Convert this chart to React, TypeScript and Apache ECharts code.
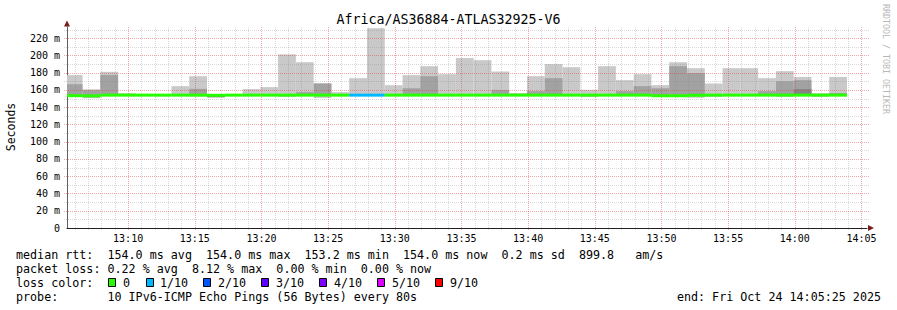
import React, { useEffect, useRef } from "react";
import * as echarts from "echarts";

// ---- time frame (seconds since midnight) ----
const T_START = 47125; // 13:05:25
const T_END = 50725; // 14:05:25
const STEP = 80; // probe step, seconds
const FIRST_BAR_START = 47115; // 13:05:15 (first, clipped, sample)

// ---- per-sample values (ms) ----
const smokeLo = [152.5, 150.5, 153.5, 153.5, 153, 152.8, 154, 152.5, 151.5, 153.5, 153, 153.5, 152, 153.5, 150.8, 153.5, 153.5, 153.5, 153.5, 153.5, 153.5, 153.5, 153.5, 153.5, 153.5, 153.5, 153.5, 153.5, 153.5, 151.8, 153.5, 153.5, 153.5, 153, 152.5, 151, 152, 153.5, 153.5, 153.5, 152, 153.5, 152, 153.5];
const smokeHi = [177.3, 160.8, 181, 156.3, 155.4, 155.3, 164.4, 176, 155, 155, 161, 163.3, 201.3, 192.2, 168, 157.5, 173.7, 231.6, 165.5, 177.2, 187.6, 178.3, 197, 194.5, 181.4, 156.5, 176, 190, 186.4, 160.2, 187.6, 171.4, 178.3, 165.6, 192.2, 185.3, 167.5, 185.3, 185.3, 173.7, 181.8, 175, 156.3, 175];
const innerLo = [153, 151.5, 153.5, null, null, null, null, 154, null, null, null, null, null, 153.5, 153.5, null, null, null, null, 153.5, 153.5, null, null, null, 153.5, null, 153.5, 153.5, null, null, null, 153.5, 153.5, 153, 153, 153, null, null, null, 153.5, 153.5, 153.5, null, 153.5];
const innerHi = [166.7, 159.8, 177.3, null, null, null, null, 161.3, null, null, null, null, null, 157.5, 167.3, null, null, null, null, 162, 176, null, null, null, 160.1, null, 158.6, 173.7, null, null, null, 158.6, 164.4, 162, 187.6, 179.6, null, null, null, 158.6, 170.2, 171.4, null, 156.5];
const coreLo = [null, null, null, null, null, null, null, null, 151.5, null, null, null, null, null, null, null, null, null, null, null, null, null, null, null, null, null, null, 153.5, null, null, null, null, null, null, null, null, null, null, null, null, 153.5, 153.5, null, null];
const coreHi = [null, null, null, null, null, null, null, null, 153.6, null, null, null, null, null, null, null, null, null, null, null, null, null, null, null, null, null, null, 155.4, null, null, null, null, null, null, null, null, null, null, null, null, 155.5, 161, null, null];
const median = [153.4, 153.2, 154, 154, 154, 154, 154, 154, 153.8, 154, 154, 154, 154, 154, 154, 154, 154, 154, 154, 154, 154, 154, 154, 154, 154, 154, 154, 154, 154, 154, 154, 154, 154, 153.3, 153.3, 153.8, 154, 154, 154, 154, 154, 154, 154, 154];
const lossIdx = [0, 0, 0, 0, 0, 0, 0, 0, 0, 0, 0, 0, 0, 0, 0, 0, 1, 1, 0, 0, 0, 0, 0, 0, 0, 0, 0, 0, 0, 0, 0, 0, 0, 0, 0, 0, 0, 0, 0, 0, 0, 0, 0, 0];

// ---- axis ticks ----
const xLabelValues = [47400, 47700, 48000, 48300, 48600, 48900, 49200, 49500, 49800, 50100, 50400, 50700];
const Y_MAX = 233;
const Y_INTERVAL = 20;

// ---- legend texts ----
const TITLE = "Africa/AS36884-ATLAS32925-V6";
const Y_NAME = "Seconds";
const LINE_RTT = "median rtt:  154.0 ms avg  154.0 ms max  153.2 ms min  154.0 ms now  0.2 ms sd  899.8   am/s";
const LINE_LOSS = "packet loss: 0.22 % avg  8.12 % max  0.00 % min  0.00 % now";
const LINE_PROBE = "probe:       10 IPv6-ICMP Echo Pings (56 Bytes) every 80s";
const LINE_END = "end: Fri Oct 24 14:05:25 2025";
const lossLabels = ["0", "1/10", "2/10", "3/10", "4/10", "5/10", "9/10"];
const lossColors = ["#26ff00", "#00b8ff", "#0059ff", "#5e00ff", "#7e00ff", "#dd00ff", "#ff0000"];
const lossSwatchX = [108, 146, 203, 261, 319, 377, 435];
const lossLabelX = [123, 160, 218, 276, 334, 392, 450];

const FONT = '"DejaVu Sans Mono", monospace';
const RED = "rgba(225,60,60,0.45)";
const GREY = "rgba(128,128,128,0.3)";

const pad2 = (n: number) => (n < 10 ? "0" + n : "" + n);
const fmtTime = (v: number) => pad2(Math.floor(v / 3600)) + ":" + pad2(Math.floor((v % 3600) / 60));

function bandData(lo: (number | null)[], hi: (number | null)[]) {
  const out: number[][] = [];
  lo.forEach((l, i) => {
    const h = hi[i];
    if (l == null || h == null) return;
    const t0 = FIRST_BAR_START + i * STEP;
    out.push([t0, t0 + STEP, l, h]);
  });
  return out;
}

function bandRender(color: string) {
  return (params: any, api: any) => {
    const t0 = api.value(0), t1 = api.value(1), lo = api.value(2), hi = api.value(3);
    const p0 = api.coord([t0, hi]);
    const p1 = api.coord([t1, lo]);
    const cs = params.coordSys;
    const r = echarts.graphic.clipRectByRect(
      { x: p0[0], y: p0[1], width: p1[0] - p0[0], height: p1[1] - p0[1] },
      { x: cs.x, y: cs.y, width: cs.width, height: cs.height }
    );
    if (!r) return null;
    return { type: "rect", shape: r, style: { fill: color } };
  };
}

export default function App() {
  const ref = useRef<HTMLDivElement>(null);
  useEffect(() => {
    document.body.style.margin = "0";
    const chart = echarts.init(ref.current!, null, { renderer: "svg" });

    const vGrid: number[][] = [];
    for (let v = 47160; v <= 50700; v += 60) vGrid.push([v, 0]);
    const hGrid: number[][] = [];
    for (let v = 10; v <= 230; v += 10) hGrid.push([T_START, v]);

    const medData = median.map((m, i) => {
      const t0 = FIRST_BAR_START + i * STEP;
      return [t0, t0 + STEP, m, lossIdx[i]];
    });

    const graphics: any[] = [
      { type: "text", x: 11, y: 127, rotation: Math.PI / 2, style: { text: Y_NAME, font: `11.5px ${FONT}`, fill: "#000", align: "center", verticalAlign: "middle" } },
      { type: "text", x: 16, y: 254.5, style: { text: LINE_RTT, font: `11.7px ${FONT}`, fill: "#000", verticalAlign: "middle" } },
      { type: "text", x: 16, y: 268.5, style: { text: LINE_LOSS, font: `11.7px ${FONT}`, fill: "#000", verticalAlign: "middle" } },
      { type: "text", x: 16, y: 282.5, style: { text: "loss color:", font: `11.7px ${FONT}`, fill: "#000", verticalAlign: "middle" } },
      { type: "text", x: 16, y: 296.5, style: { text: LINE_PROBE, font: `11.7px ${FONT}`, fill: "#000", verticalAlign: "middle" } },
      { type: "text", x: 881, y: 296.5, style: { text: LINE_END, font: `11.7px ${FONT}`, fill: "#000", verticalAlign: "middle", align: "right" } },
      { type: "text", x: 886, y: 59, rotation: -Math.PI / 2, style: { text: "RRDTOOL / TOBI OETIKER", font: `8.3px ${FONT}`, fill: "#b8b8b8", align: "center", verticalAlign: "middle" } },
      { type: "polygon", shape: { points: [[64, 26.5], [70, 26.5], [67, 20.5]] }, style: { fill: "#7a1c1c" } },
      { type: "polygon", shape: { points: [[868, 225], [868, 231], [874, 228]] }, style: { fill: "#7a1c1c" } },
    ];
    lossLabels.forEach((lab, i) => {
      graphics.push({ type: "rect", shape: { x: lossSwatchX[i] + 0.5, y: 278.5, width: 7, height: 8 }, style: { fill: lossColors[i], stroke: "#000", lineWidth: 1 } });
      graphics.push({ type: "text", x: lossLabelX[i], y: 282.5, style: { text: lab, font: `11.7px ${FONT}`, fill: "#000", verticalAlign: "middle" } });
    });

    chart.setOption({
      animation: false,
      backgroundColor: "#ffffff",
      title: {
        text: TITLE,
        left: "center",
        top: 12,
        padding: 0,
        textStyle: { fontFamily: FONT, fontSize: 13.3, fontWeight: "normal", color: "#000", lineHeight: 15 },
      },
      grid: { left: 67, top: 27, width: 800, height: 201, containLabel: false, outerBoundsMode: "none" },
      xAxis: {
        type: "value",
        min: T_START,
        max: T_END,
        axisLine: { show: true, lineStyle: { color: "#222", width: 1 } },
        axisTick: { show: false, customValues: xLabelValues },
        splitLine: { show: false },
        axisLabel: {
          customValues: xLabelValues,
          formatter: (v: number) => fmtTime(v),
          fontFamily: FONT,
          fontSize: 10,
          color: "#000",
          margin: 5,
        },
      },
      yAxis: {
        type: "value",
        min: 0,
        max: Y_MAX,
        interval: Y_INTERVAL,
        axisLine: { show: true, lineStyle: { color: "#606060", width: 1 } },
        axisTick: { show: false },
        splitLine: { show: false },
        axisLabel: {
          formatter: (v: number) => (v === 0 ? "0" : v % 20 === 0 ? v + " m" : ""),
          fontFamily: FONT,
          fontSize: 10,
          color: "#000",
          margin: 7,
        },
      },
      graphic: graphics,
      series: [
        { type: "custom", z: 2, silent: true, data: bandData(smokeLo, smokeHi), encode: { x: [0, 1], y: [2, 3] }, renderItem: bandRender("#c9c9c9") },
        { type: "custom", z: 2, silent: true, data: bandData(innerLo, innerHi), encode: { x: [0, 1], y: [2, 3] }, renderItem: bandRender("#a2a2a2") },
        { type: "custom", z: 2, silent: true, data: bandData(coreLo, coreHi), encode: { x: [0, 1], y: [2, 3] }, renderItem: bandRender("#858585") },
        {
          type: "custom",
          z: 3,
          silent: true,
          data: vGrid,
          encode: { x: 0, y: 1 },
          renderItem: (params: any, api: any) => {
            const v = api.value(0);
            const cs = params.coordSys;
            const x = Math.round(api.coord([v, 0])[0]) + 0.5;
            return {
              type: "line",
              shape: { x1: x, y1: cs.y, x2: x, y2: cs.y + cs.height + 2 },
              style: { stroke: v % 300 === 0 ? RED : GREY, lineWidth: 1, lineDash: [1, 1] },
            };
          },
        },
        {
          type: "custom",
          z: 3,
          silent: true,
          data: hGrid,
          encode: { x: 0, y: 1 },
          renderItem: (params: any, api: any) => {
            const v = api.value(1);
            const cs = params.coordSys;
            const y = Math.round(api.coord([T_START, v])[1]) + 0.5;
            return {
              type: "line",
              shape: { x1: cs.x - 3, y1: y, x2: cs.x + cs.width + 2, y2: y },
              style: { stroke: v % 20 === 0 ? RED : GREY, lineWidth: 1, lineDash: [1, 1] },
            };
          },
        },
        {
          type: "custom",
          z: 4,
          silent: true,
          data: medData,
          encode: { x: [0, 1], y: 2 },
          renderItem: (params: any, api: any) => {
            const t0 = api.value(0), t1 = api.value(1), m = api.value(2), li = api.value(3);
            const p0 = api.coord([t0, m]);
            const p1 = api.coord([t1, m]);
            const cs = params.coordSys;
            const r = echarts.graphic.clipRectByRect(
              { x: p0[0], y: p0[1] - 1.5, width: p1[0] - p0[0], height: 3 },
              { x: cs.x, y: cs.y, width: cs.width, height: cs.height }
            );
            if (!r) return null;
            return { type: "rect", shape: r, style: { fill: lossColors[li] } };
          },
        },
      ],
    });
    return () => chart.dispose();
  }, []);
  return <div ref={ref} style={{ width: 897, height: 310 }} />;
}
